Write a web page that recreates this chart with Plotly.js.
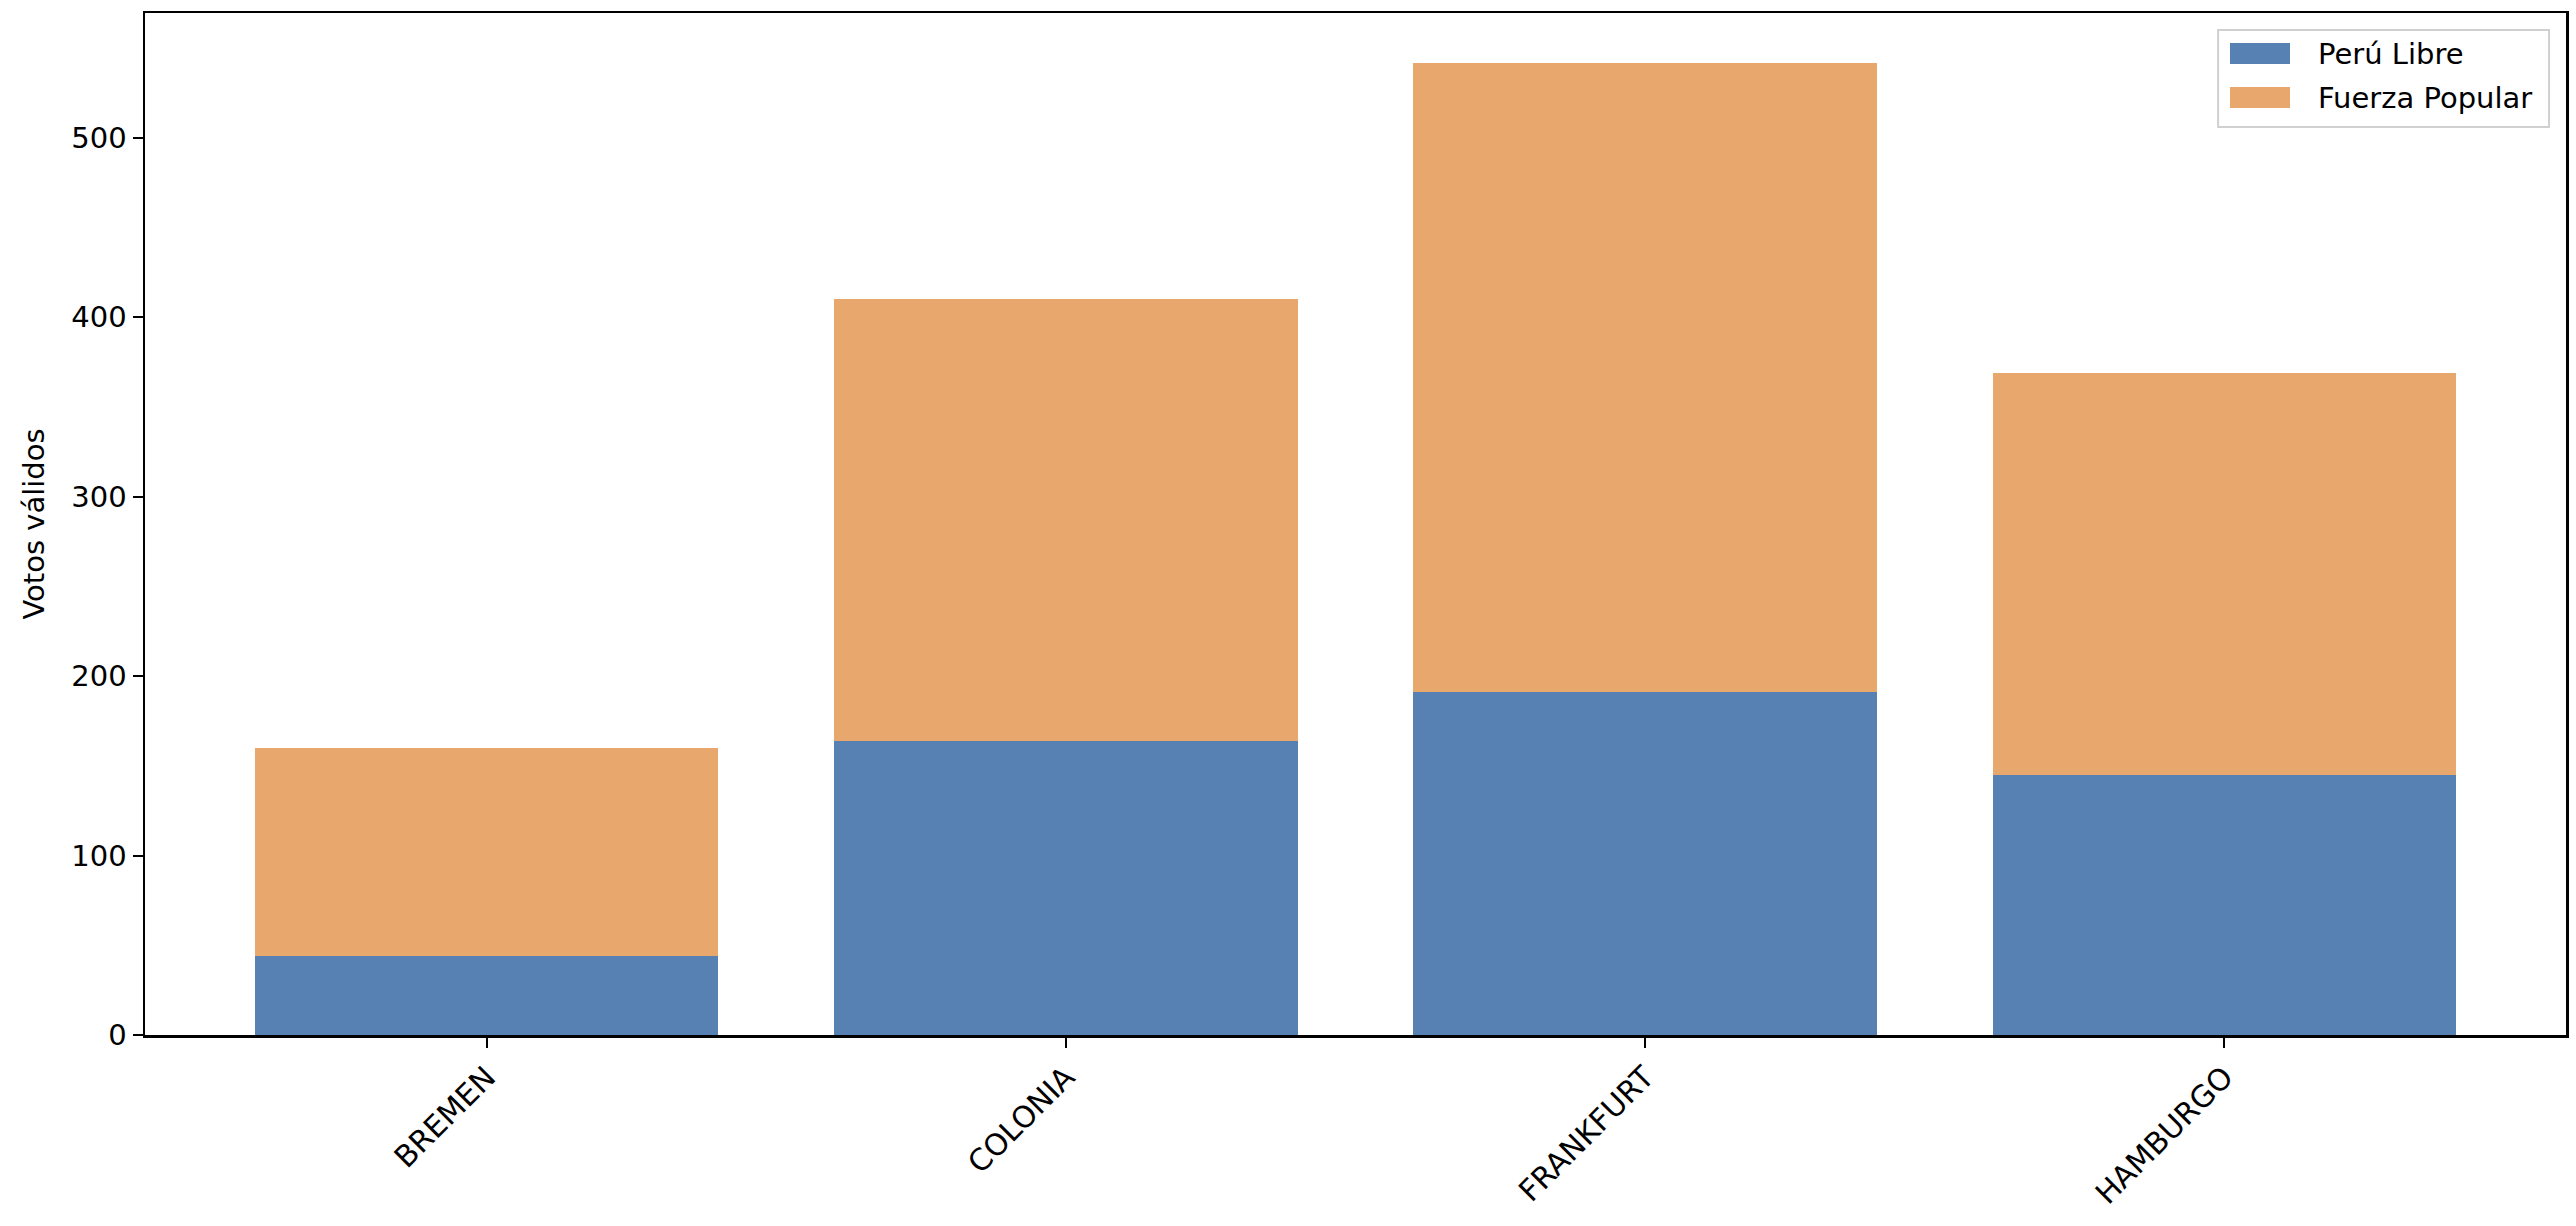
<!DOCTYPE html>
<html>
<head>
<meta charset="utf-8">
<script src="https://cdn.plot.ly/plotly-3.0.1.min.js"></script>
<style>
  body { margin: 0; background: white; }
</style>
</head>
<body>
<div id="chart"></div>
<script>
// consulados en Alemania, votos válidos por partido
let ciudades = ["BREMEN", "COLONIA", "FRANKFURT", "HAMBURGO"];
let peru_libre = [44, 164, 191, 145];
let fuerza_popular = [116, 246, 351, 224];
let y_ticks = [0, 100, 200, 300, 400, 500];

let color_pl = '#5681b2';
let color_fp = '#e8a76d';
let font_base = { family: "DejaVu Sans, sans-serif", size: 29, color: "#000" };

let pl = {
    x: ciudades,
    y: peru_libre,
    type: 'bar',
    name: 'Perú Libre',
    width: 0.8,
    marker: { color: color_pl, line: { width: 0 } }
};

let fp = {
    x: ciudades,
    y: fuerza_popular,
    type: 'bar',
    name: 'Fuerza Popular',
    width: 0.8,
    marker: { color: color_fp, line: { width: 0 } }
};

// leyenda estilo matplotlib (rectángulos anchos)
let leyenda = [
    { name: pl.name, color: color_pl, y0: 0.9501, y1: 0.9706, ty: 0.9599 },
    { name: fp.name, color: color_fp, y0: 0.9070, y1: 0.9276, ty: 0.9168 }
];

let shapes = [{
    type: 'rect', xref: 'paper', yref: 'paper',
    x0: 0.8563, x1: 0.9930, y0: 0.8885, y1: 0.9834,
    fillcolor: 'white', line: { color: '#d0d0d0', width: 2 }
}];
let annotations = [];
leyenda.forEach(function (it) {
    shapes.push({
        type: 'rect', xref: 'paper', yref: 'paper',
        x0: 0.8612, x1: 0.8860, y0: it.y0, y1: it.y1,
        fillcolor: it.color, line: { width: 0 }
    });
    annotations.push({
        xref: 'paper', yref: 'paper',
        x: 0.8967, xanchor: 'left',
        y: it.ty, yanchor: 'middle',
        text: it.name, showarrow: false,
        font: { family: font_base.family, size: 29, color: '#000' }
    });
});

let layout = {
    width: 2576,
    height: 1226,
    margin: { l: 145, r: 10, t: 13, b: 191 },
    barmode: 'stack',
    paper_bgcolor: 'white',
    plot_bgcolor: 'white',
    font: font_base,
    showlegend: false,
    shapes: shapes,
    annotations: annotations,
    xaxis: {
        type: 'category',
        range: [-0.59, 3.59],
        showline: true, mirror: true,
        linecolor: '#000', linewidth: 2.5,
        ticks: 'outside', ticklen: 10, tickwidth: 2, tickcolor: '#000',
        tickangle: -45,
        showgrid: false,
        zeroline: false,
        tickfont: { size: 30 }
    },
    yaxis: {
        range: [0, 569.6],
        tickvals: y_ticks,
        showline: true, mirror: true,
        linecolor: '#000', linewidth: 2.5,
        ticks: 'outside', ticklen: 10, tickwidth: 2, tickcolor: '#000',
        showgrid: false,
        zeroline: false,
        tickfont: { size: 29 },
        title: { text: 'Votos válidos', font: { size: 29 }, standoff: 18 }
    }
};

Plotly.newPlot('chart', [pl, fp], layout, { staticPlot: true });
</script>
</body>
</html>
